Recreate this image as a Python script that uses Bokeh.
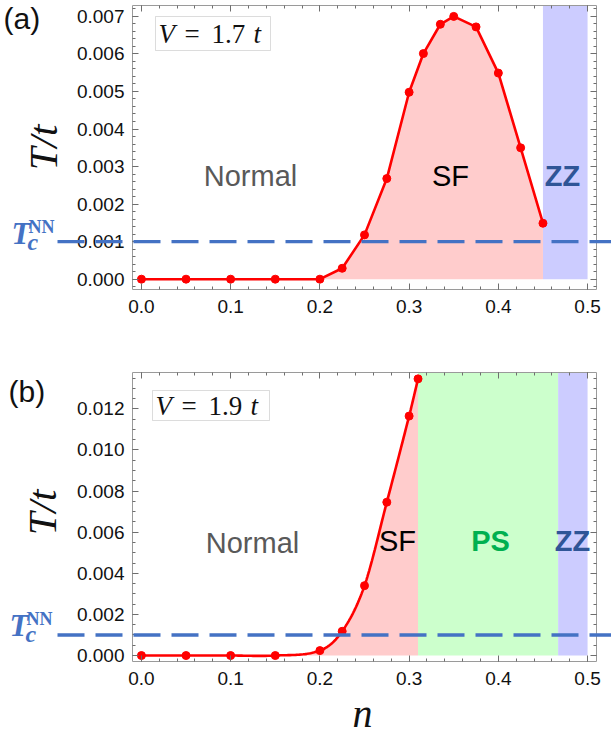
import numpy as np
from bokeh.plotting import figure
from bokeh.models import (Range1d, LinearAxis, SingleIntervalTicker, NumeralTickFormatter,
                          Label, BoxAnnotation, Arrow)
from bokeh.layouts import column
from bokeh.embed import file_html
from bokeh.resources import INLINE

# ---- data: panel (a), V = 1.7 t ----
n_a = [0.0, 0.05, 0.10, 0.15, 0.20, 0.225, 0.25, 0.275, 0.30, 0.316, 0.335, 0.35,
       0.375, 0.40, 0.425, 0.45]
T_a = [0.0, 0.0, 0.0, 0.0, 0.0, 0.00029, 0.00118, 0.00268, 0.00498, 0.00601, 0.00679,
       0.00700, 0.00672, 0.00549, 0.00350, 0.00149]
zz_a = [0.45, 0.50]

# ---- data: panel (b), V = 1.9 t ----
n_b = [0.0, 0.05, 0.10, 0.15, 0.20, 0.225, 0.25, 0.275, 0.30, 0.31]
T_b = [0.0, 0.0, 0.0, 0.0, 0.00024, 0.00118, 0.00340, 0.00746, 0.01165, 0.01346]
ps_b = [0.31, 0.467]
zz_b = [0.467, 0.50]

# nearest-neighbour critical temperature
tc_nn = 0.001

x_tick_interval = 0.1
y_tick_interval_a = 0.001
y_tick_interval_b = 0.002

RED = "#ff0000"
PINK = "#ffcccc"
LAVENDER = "#ccccff"
MINT = "#ccffcc"
TC_BLUE = "#4472c4"
ZZ_BLUE = "#2f5597"
PS_GREEN = "#00b050"
SANS = "Liberation Sans"
SERIF = "Liberation Serif"

W = 611
X0, X1 = -0.010, 0.510          # visible box in x
BOX_L, BOX_R = 132, 596          # visible box in pixels


def smooth_path(xs, ys, steps=24):
    """Cubic Hermite curve through the points, used only to draw a smooth line."""
    x = np.asarray(xs, float)
    y = np.asarray(ys, float)
    m = np.zeros_like(y)
    m[1:-1] = (y[2:] - y[:-2]) / (x[2:] - x[:-2])
    m[0] = (y[1] - y[0]) / (x[1] - x[0])
    m[-1] = (y[-1] - y[-2]) / (x[-1] - x[-2])
    ox, oy = [], []
    for i in range(len(x) - 1):
        h = x[i + 1] - x[i]
        t = np.linspace(0, 1, steps, endpoint=False)
        h00 = 2 * t**3 - 3 * t**2 + 1
        h10 = t**3 - 2 * t**2 + t
        h01 = -2 * t**3 + 3 * t**2
        h11 = t**3 - t**2
        ox.extend(x[i] + t * h)
        oy.extend(h00 * y[i] + h10 * h * m[i] + h01 * y[i + 1] + h11 * h * m[i + 1])
    ox.append(x[-1])
    oy.append(y[-1])
    return ox, oy


def make_panel(height, box_top, box_bottom, y0, y1, yint, ynum_minor):
    """Figure whose frame is the whole canvas; the framed box is drawn by four axes."""
    sx = (X1 - X0) / (BOX_R - BOX_L)
    sy = (y1 - y0) / (box_bottom - box_top)
    xr = Range1d(X0 - BOX_L * sx, X1 + (W - BOX_R) * sx)
    yr = Range1d(y0 - (height - box_bottom) * sy, y1 + box_top * sy)
    p = figure(width=W, height=height, x_range=xr, y_range=yr, output_backend="svg",
               toolbar_location=None, x_axis_location=None, y_axis_location=None,
               min_border=0)
    p.grid.visible = False
    p.outline_line_color = None
    p.background_fill_color = "white"
    p.border_fill_color = "white"

    def axis(interval, n_minor, loc, bounds, labels, fmt=None, standoff=8):
        ax = LinearAxis(ticker=SingleIntervalTicker(interval=interval, num_minor_ticks=n_minor),
                        fixed_location=loc, bounds=bounds)
        ax.axis_line_color = "#9a9a9a"
        ax.axis_line_width = 1
        ax.major_tick_in = 6
        ax.major_tick_out = 0
        ax.minor_tick_in = 3
        ax.minor_tick_out = 0
        ax.major_tick_line_color = "#6e6e6e"
        ax.minor_tick_line_color = "#6e6e6e"
        if labels:
            ax.formatter = NumeralTickFormatter(format=fmt)
            ax.major_label_text_font = SANS
            ax.major_label_text_font_size = "19px"
            ax.major_label_text_color = "#111111"
            ax.major_label_standoff = standoff
        else:
            ax.major_label_text_color = None
        return ax

    p.add_layout(axis(x_tick_interval, 5, y0, (X0, X1), True, "0.0", 10), "below")
    p.add_layout(axis(x_tick_interval, 5, y1, (X0, X1), False), "above")
    p.add_layout(axis(yint, ynum_minor, X0, (y0, y1), True, "0.000", 8), "left")
    p.add_layout(axis(yint, ynum_minor, X1, (y0, y1), False), "right")

    def at(px, py):
        return xr.start + px * sx, yr.end - py * sy

    return p, at, (y0, y1)


def add_common(p, at, panel_tag, tag_xy, v_text, box, tc_xy, ylabel_xy):
    # panel tag
    tx, ty = at(*tag_xy)
    p.add_layout(Label(x=tx, y=ty, text=panel_tag, text_font=SANS, text_font_size="30px",
                       text_baseline="top", text_align="left", text_color="#111111"))
    # y-axis title
    lx, ly = at(*ylabel_xy)
    p.add_layout(Label(x=lx, y=ly, text="T/t", text_font=SERIF, text_font_style="italic",
                       text_font_size="41px", angle=np.pi / 2, text_align="center",
                       text_baseline="middle", text_color="#111111"))
    # V = ... box
    bl, bt = at(box[0], box[1])
    br, bb = at(box[2], box[3])
    p.add_layout(BoxAnnotation(left=bl, right=br, top=bt, bottom=bb, fill_color="white",
                               fill_alpha=1.0, line_color="#8a8a8a", line_width=1))
    vx, vy = at(box[4], box[5])
    pieces = [("V", "italic", 0), ("=", "normal", 26), (v_text, "normal", 53), ("t", "italic", 95)]
    for txt, style, off in pieces:
        p.add_layout(Label(x=vx, y=vy, x_offset=off, text=txt, text_font=SERIF,
                           text_font_style=style, text_font_size="27px", text_align="left",
                           text_baseline="middle", text_color="#111111"))
    # dashed reference line at Tc(NN)
    sx, _ = at(57, 0)
    ex, _ = at(W, 0)
    p.add_layout(Arrow(end=None, x_start=sx, y_start=tc_nn, x_end=ex, y_end=tc_nn,
                       line_color=TC_BLUE, line_width=3.3, line_dash="27 11"))
    # Tc^NN label
    cx, cy = at(*tc_xy)
    p.add_layout(Label(x=cx, y=cy, text="T", text_font=SERIF, text_font_style="bold italic",
                       text_font_size="31px", text_color=TC_BLUE, text_baseline="middle"))
    p.add_layout(Label(x=cx, y=cy, x_offset=16, y_offset=-8, text="c", text_font=SERIF,
                       text_font_style="bold italic", text_font_size="24px", text_color=TC_BLUE,
                       text_baseline="middle"))
    p.add_layout(Label(x=cx, y=cy, x_offset=17, y_offset=7, text="NN", text_font=SERIF,
                       text_font_style="bold", text_font_size="18px", text_color=TC_BLUE,
                       text_baseline="middle"))


def region_text(p, at, px, py, text, color, bold=False):
    x, y = at(px, py)
    p.add_layout(Label(x=x, y=y, text=text, text_font=SANS,
                       text_font_style="bold" if bold else "normal", text_font_size="29px",
                       text_color=color, text_align="center", text_baseline="middle"))


# ---------------- panel (a) ----------------
pa, at_a, (ya0, ya1) = make_panel(330, 5, 289, -0.000275, 0.00729, y_tick_interval_a, 5)

pa.quad(left=[zz_a[0]], right=[zz_a[1]], bottom=[0.0], top=[ya1], fill_color=LAVENDER,
        line_color=None)
pa.patch(n_a + [n_a[-1], n_a[0]], T_a + [0.0, 0.0], fill_color=PINK, line_color=None)
pa.line(n_a, T_a, line_color=RED, line_width=2.6)
pa.scatter(n_a, T_a, size=8, fill_color=RED, line_color=RED)

region_text(pa, at_a, 250, 175, "Normal", "#595959")
region_text(pa, at_a, 450, 175, "SF", "#000000")
region_text(pa, at_a, 562, 175, "ZZ", ZZ_BLUE, bold=True)
add_common(pa, at_a, "(a)", (3, 1), "1.7", (155, 16, 270, 50, 158, 33), (11, 233), (42, 147))

# ---------------- panel (b) (page rows 330..736) ----------------
OFF_B = 330
pb, at_b_local, (yb0, yb1) = make_panel(406, 372 - OFF_B, 661 - OFF_B, -0.00029, 0.01377,
                                        y_tick_interval_b, 4)


def at_b(px, py):
    return at_b_local(px, py - OFF_B)


pb.quad(left=[ps_b[0]], right=[ps_b[1]], bottom=[0.0], top=[yb1], fill_color=MINT,
        line_color=None)
pb.quad(left=[zz_b[0]], right=[zz_b[1]], bottom=[0.0], top=[yb1], fill_color=LAVENDER,
        line_color=None)
cx_b, cy_b = smooth_path(n_b, T_b)
pb.patch(cx_b + [n_b[-1], n_b[0]], cy_b + [0.0, 0.0], fill_color=PINK, line_color=None)
pb.line(cx_b, cy_b, line_color=RED, line_width=2.6)
pb.scatter(n_b, T_b, size=8, fill_color=RED, line_color=RED)

region_text(pb, at_b, 252, 542, "Normal", "#595959")
region_text(pb, at_b, 397, 540, "SF", "#000000")
region_text(pb, at_b, 490, 540, "PS", PS_GREEN, bold=True)
region_text(pb, at_b, 572, 540, "ZZ", ZZ_BLUE, bold=True)
add_common(pb, at_b, "(b)", (8, 374), "1.9", (152, 390, 269, 420, 155, 405), (9, 625), (41, 512))

nx, ny = at_b(362, 713)
pb.add_layout(Label(x=nx, y=ny, text="n", text_font=SERIF, text_font_style="italic",
                    text_font_size="40px", text_align="center", text_baseline="middle",
                    text_color="#111111"))

layout = column(pa, pb)
open("out.html", "w").write(file_html(layout, INLINE))
